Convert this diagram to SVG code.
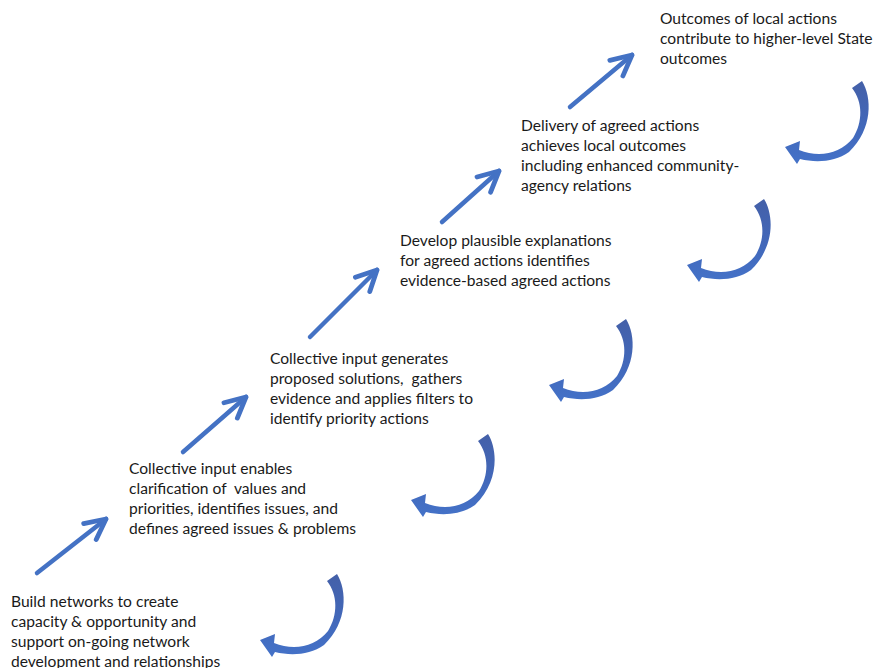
<svg xmlns="http://www.w3.org/2000/svg" width="873" height="668" viewBox="0 0 873 668">
<defs>
<style>
text{font-family:Lato,"Open Sans","Liberation Sans",sans-serif;font-size:15.6px;fill:#1a1a1a}
.arr{stroke:#4472C4;stroke-width:4.5;fill:none;stroke-linecap:round}
.curl{fill:url(#cg)}
</style>
<linearGradient id="cg" x1="0" y1="0" x2="0" y2="1">
<stop offset="0" stop-color="#4460A8"/>
<stop offset="0.55" stop-color="#4268BA"/>
<stop offset="1" stop-color="#4472C8"/>
</linearGradient>
<marker id="ah" markerUnits="userSpaceOnUse" orient="auto" markerWidth="30" markerHeight="30" viewBox="-24 -14 28 28" refX="0" refY="0">
<path d="M -19 -9.5 L 0 0 L -19 9.5" fill="none" stroke="#4472C4" stroke-width="4.5" stroke-linecap="round" stroke-linejoin="round"/>
</marker>
<path id="curl" d="M 78 16 L 88 9 C 98 25 99 57 75 80 C 61 90 42 91 26 87 L 23 92 L 11 75 L 26 69 L 25 78 C 45 86 66 82 79 66 C 89 50 89 30 78 16 Z"/>
</defs>
<g id="connectors">
<line class="arr" x1="37" y1="573" x2="106" y2="519" marker-end="url(#ah)"/>
<line class="arr" x1="183" y1="452" x2="246" y2="397" marker-end="url(#ah)"/>
<line class="arr" x1="310" y1="337" x2="377" y2="270" marker-end="url(#ah)"/>
<line class="arr" x1="442" y1="222" x2="499" y2="171" marker-end="url(#ah)"/>
<line class="arr" x1="570" y1="107" x2="632" y2="55" marker-end="url(#ah)"/>
<use href="#curl" class="curl" transform="translate(249,565)"/>
<use href="#curl" class="curl" transform="translate(400,425)"/>
<use href="#curl" class="curl" transform="translate(538,310)"/>
<use href="#curl" class="curl" transform="translate(676,190)"/>
<use href="#curl" class="curl" transform="translate(774,72)"/>
</g>
<g id="node1">
<text x="11" y="606.5">Build networks to create</text>
<text x="11" y="626.5">capacity &amp; opportunity and</text>
<text x="11" y="646.5">support on-going network</text>
<text x="11" y="666.5">development and relationships</text>
</g>
<g id="node2">
<text x="129" y="474" xml:space="preserve">Collective input enables</text>
<text x="129" y="494" xml:space="preserve">clarification of  values and</text>
<text x="129" y="514" xml:space="preserve">priorities, identifies issues, and</text>
<text x="129" y="534" xml:space="preserve">defines agreed issues &amp; problems</text>
</g>
<g id="node3">
<text x="270" y="364" xml:space="preserve">Collective input generates</text>
<text x="270" y="384" xml:space="preserve">proposed solutions,  gathers</text>
<text x="270" y="404" xml:space="preserve">evidence and applies filters to</text>
<text x="270" y="424" xml:space="preserve">identify priority actions</text>
</g>
<g id="node4">
<text x="400" y="246">Develop plausible explanations</text>
<text x="400" y="266">for agreed actions identifies</text>
<text x="400" y="286">evidence-based agreed actions</text>
</g>
<g id="node5">
<text x="521" y="131">Delivery of agreed actions</text>
<text x="521" y="151">achieves local outcomes</text>
<text x="521" y="171">including enhanced community-</text>
<text x="521" y="191">agency relations</text>
</g>
<g id="node6">
<text x="660" y="24">Outcomes of local actions</text>
<text x="660" y="44">contribute to higher-level State</text>
<text x="660" y="64">outcomes</text>
</g>
</svg>
